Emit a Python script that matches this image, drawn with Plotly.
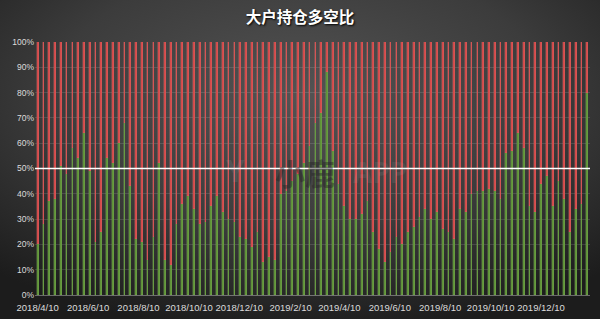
import base64
import pandas as pd
import plotly.graph_objects as go

# ---- data ----
start_date = "2018-04-10"
n_weeks = 96
long_pct = [20, 28, 37, 38, 51, 48, 58, 54, 64, 49,
            21, 25, 54, 52, 60, 68, 43, 22, 21, 14,
            23, 52, 14, 12, 28, 36, 39, 34, 28, 29,
            35, 39, 33, 30, 29, 23, 22, 19, 25, 13,
            15, 14, 40, 41, 45, 48, 52, 59, 68, 72,
            88, 57, 44, 35, 30, 30, 32, 37, 25, 18,
            13, 17, 23, 20, 25, 27, 31, 34, 30, 33,
            26, 25, 22, 34, 33, 40, 41, 41, 42, 41,
            38, 56, 57, 64, 58, 35, 33, 44, 47, 35,
            45, 38, 25, 34, 36, 80]
short_pct = [100 - v for v in long_pct]
tick_dates = ["2018-04-10", "2018-06-10", "2018-08-10", "2018-10-10", "2018-12-10",
              "2019-02-10", "2019-04-10", "2019-06-10", "2019-08-10", "2019-10-10",
              "2019-12-10"]
tick_text = ["2018/4/10", "2018/6/10", "2018/8/10", "2018/10/10", "2018/12/10",
             "2019/2/10", "2019/4/10", "2019/6/10", "2019/8/10", "2019/10/10",
             "2019/12/10"]
y_ticks = [i / 10 for i in range(11)]
y_text = [f"{i * 10}%" for i in range(11)]
title_text = "大户持仓多空比"

dates = pd.date_range(start_date, periods=n_weeks, freq="7D")

W, H = 600, 319
ml, mr, mt, mb = 35, 10, 42, 24
pw, ph = W - ml - mr, H - mt - mb

DAY = 86400000
bar_w = 2.1 * DAY

fig = go.Figure()
fig.add_bar(x=dates, y=[v / 100 for v in long_pct], width=bar_w,
            marker=dict(color="#5f9238", line=dict(color="rgba(130,180,95,0.35)", width=0.8)),
            name="多")
fig.add_bar(x=dates, y=[v / 100 for v in short_pct], width=bar_w,
            marker=dict(color="#d24a4a", line=dict(color="rgba(225,110,110,0.35)", width=0.8)),
            name="空")

svg = (f"<svg xmlns='http://www.w3.org/2000/svg' width='{W}' height='{H}' "
       f"viewBox='0 0 {W} {H}' preserveAspectRatio='none'>"
       "<defs><radialGradient id='g' cx='50%' cy='30%' r='75%'>"
       "<stop offset='0' stop-color='#535353'/>"
       "<stop offset='0.55' stop-color='#3c3c3c'/>"
       "<stop offset='1' stop-color='#1c1c1c'/></radialGradient></defs>"
       f"<rect width='{W}' height='{H}' fill='url(#g)'/></svg>")
src = "data:image/svg+xml;base64," + base64.b64encode(svg.encode()).decode()

pad = pd.Timedelta(days=3.2)
fig.update_layout(
    width=W, height=H,
    margin=dict(l=ml, r=mr, t=mt, b=mb),
    barmode="stack",
    bargap=0,
    showlegend=False,
    paper_bgcolor="#2e2e2e",
    plot_bgcolor="rgba(0,0,0,0)",
    title=dict(text=title_text, x=0.5, xref="container", xanchor="center",
               y=1 - 18 / H, yanchor="middle",
               font=dict(family="Noto Sans CJK SC", size=15.5, color="#ffffff",
                         weight="bold", shadow="1px 1px 2px #000")),
    images=[dict(source=src, xref="paper", yref="paper",
                 x=-ml / pw, y=1 + mt / ph, sizex=W / pw, sizey=H / ph,
                 xanchor="left", yanchor="top", sizing="stretch", layer="below")],
    xaxis=dict(type="date", range=[dates[0] - pad, dates[-1] + pad],
               tickvals=tick_dates, ticktext=tick_text, showgrid=False,
               showline=True, linecolor="rgba(255,255,255,0.35)", linewidth=1,
               ticks="", ticklen=0, ticklabelstandoff=4, automargin=False,
               tickfont=dict(family="Liberation Sans", size=9.5, color="#dcdcdc")),
    yaxis=dict(range=[0, 1], tickvals=y_ticks, ticktext=y_text, automargin=False,
               showgrid=True, gridcolor="rgba(255,255,255,0.12)", gridwidth=1,
               zeroline=False, showline=False, ticks="",
               tickfont=dict(family="Liberation Sans", size=8.5, color="#dcdcdc")),
    shapes=[dict(type="line", xref="paper", yref="y", x0=0, x1=1, y0=0.5, y1=0.5,
                 line=dict(color="#ffffff", width=1.5), layer="above")],
    annotations=[
        dict(text="小鹿", xref="paper", yref="paper", x=(305 - ml) / pw, y=(H - mb - 172) / ph,
             showarrow=False, font=dict(family="Noto Sans CJK SC", size=30, color="rgba(35,35,35,0.45)",
                                        weight="bold")),
        dict(text="APP", xref="paper", yref="paper", x=(380 - ml) / pw, y=(H - mb - 172) / ph,
             showarrow=False, font=dict(family="Noto Sans", size=28, color="rgba(170,170,170,0.12)",
                                        weight="bold")),
        dict(text="Y", xref="paper", yref="paper", x=(235 - ml) / pw, y=(H - mb - 170) / ph,
             showarrow=False, font=dict(family="Noto Sans", size=30, color="rgba(170,190,210,0.12)",
                                        weight="bold")),
    ],
)

fig.write_html("out.html")
